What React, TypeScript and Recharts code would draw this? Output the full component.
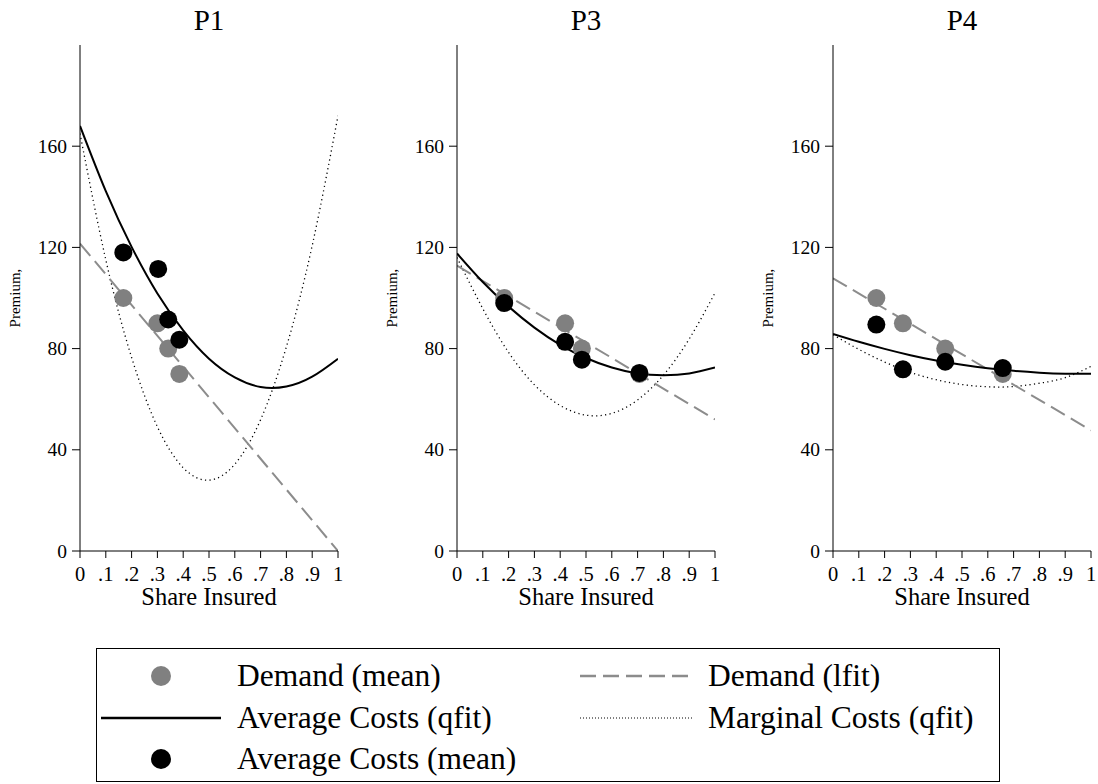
import React from 'react';
import { ComposedChart, Line, Scatter, XAxis, YAxis } from 'recharts';

const FONT = '"Liberation Serif", "Times New Roman", serif';

const panelTitles = ['P1', 'P3', 'P4'];
const xTicks = [0, 0.1, 0.2, 0.3, 0.4, 0.5, 0.6, 0.7, 0.8, 0.9, 1];
const yTicks = [0, 40, 80, 120, 160];
const xGrid = [0, 0.1, 0.2, 0.3, 0.4, 0.5, 0.6, 0.7, 0.8, 0.9, 1];

// Demand (mean) — gray points
const demandMeanX_P1 = [0.168, 0.30, 0.342, 0.385];
const demandMeanY_P1 = [100, 90, 80, 70];
const demandMeanX_P3 = [0.183, 0.419, 0.484, 0.707];
const demandMeanY_P3 = [100, 90, 80, 70];
const demandMeanX_P4 = [0.168, 0.271, 0.435, 0.658];
const demandMeanY_P4 = [100, 90, 80, 70];

// Average Costs (mean) — black points
const acMeanX_P1 = [0.168, 0.303, 0.342, 0.385];
const acMeanY_P1 = [118, 111.5, 91.5, 83.5];
const acMeanX_P3 = [0.183, 0.419, 0.484, 0.707];
const acMeanY_P3 = [98, 82.7, 75.6, 70.4];
const acMeanX_P4 = [0.168, 0.271, 0.435, 0.658];
const acMeanY_P4 = [89.5, 71.8, 74.8, 72.3];

// Demand (lfit) — endpoints at x = 0 and x = 1
const lfitX = [0, 1];
const demandFitY_P1 = [121.5, 0];
const demandFitY_P3 = [112.8, 52];
const demandFitY_P4 = [107.8, 47.7];

// Average Costs (qfit) read at x = 0, .1, ..., 1
const acFitY_P1 = [168, 142.2, 120.2, 101.8, 87.2, 76, 68.6, 64.8, 65.0, 68.9, 76];
const acFitY_P3 = [117.6, 106.3, 96.6, 88.3, 81.5, 76.3, 72.5, 70.2, 69.5, 70.2, 72.5];
const acFitY_P4 = [85.8, 82.7, 79.9, 77.4, 75.3, 73.6, 72.2, 71.2, 70.5, 70.1, 70.1];

// Marginal Costs (qfit) read at x = 0, .1, ..., 1
const mcFitY_P1 = [165, 115.1, 76.5, 49.1, 32.9, 28, 34.3, 51.9, 80.7, 120.7, 172];
const mcFitY_P3 = [116, 95.8, 78.5, 65.7, 57.5, 53.7, 54.4, 59.7, 69.5, 83.8, 102];
const mcFitY_P4 = [85.5, 79.7, 74.7, 70.6, 67.7, 65.8, 64.9, 65.0, 66.3, 68.5, 73];

const zip = (xs: number[], ys: number[]) => xs.map((x, i) => ({ x, y: ys[i] }));

const panels = [
  {
    title: panelTitles[0],
    plotLeft: 80,
    demandMean: zip(demandMeanX_P1, demandMeanY_P1),
    acMean: zip(acMeanX_P1, acMeanY_P1),
    demandFit: zip(lfitX, demandFitY_P1),
    acFit: zip(xGrid, acFitY_P1),
    mcFit: zip(xGrid, mcFitY_P1),
  },
  {
    title: panelTitles[1],
    plotLeft: 457,
    demandMean: zip(demandMeanX_P3, demandMeanY_P3),
    acMean: zip(acMeanX_P3, acMeanY_P3),
    demandFit: zip(lfitX, demandFitY_P3),
    acFit: zip(xGrid, acFitY_P3),
    mcFit: zip(xGrid, mcFitY_P3),
  },
  {
    title: panelTitles[2],
    plotLeft: 833,
    demandMean: zip(demandMeanX_P4, demandMeanY_P4),
    acMean: zip(acMeanX_P4, acMeanY_P4),
    demandFit: zip(lfitX, demandFitY_P4),
    acFit: zip(xGrid, acFitY_P4),
    mcFit: zip(xGrid, mcFitY_P4),
  },
];

const PLOT_W = 258;
const Y_AXIS_W = 80;
const RIGHT_M = 6;
const TOP = 45;
const BOTTOM = 551;
const CHART_H = 620;
const X_AXIS_H = 40;

const fmtX = (v: number) => {
  if (v === 0) return '0';
  if (v === 1) return '1';
  return '.' + Math.round(v * 10);
};

const XTick = (p: any) => (
  <text
    x={p.x}
    y={p.y}
    dy={20}
    textAnchor="middle"
    fill="#000"
    style={{ fontSize: '20.5px', fontFamily: FONT }}
  >
    {fmtX(p.payload.value)}
  </text>
);

const YTick = (p: any) => (
  <text
    x={p.x}
    y={p.y}
    dy={6.5}
    textAnchor="end"
    fill="#000"
    style={{ fontSize: '19.5px', fontFamily: FONT }}
  >
    {String(p.payload.value)}
  </text>
);

const grayDot = (p: any) => <circle cx={p.cx} cy={p.cy} r={9} fill="#808080" />;
const blackDot = (p: any) => <circle cx={p.cx} cy={p.cy} r={9} fill="#000000" />;

function Panel({ panel }: { panel: typeof panels[number] }) {
  const left = panel.plotLeft - Y_AXIS_W;
  const width = Y_AXIS_W + PLOT_W + RIGHT_M;
  const centerX = panel.plotLeft + PLOT_W / 2;
  return (
    <>
      <div
        style={{
          position: 'absolute',
          left: centerX - 60,
          width: 120,
          top: 3,
          textAlign: 'center',
          fontFamily: FONT,
          fontSize: 29,
          lineHeight: '34px',
          color: '#000',
        }}
      >
        {panel.title}
      </div>
      <div
        style={{
          position: 'absolute',
          left: panel.plotLeft - 65 - 40,
          top: (TOP + BOTTOM) / 2 - 10,
          width: 80,
          height: 20,
          lineHeight: '20px',
          textAlign: 'center',
          transform: 'rotate(-90deg)',
          fontFamily: FONT,
          fontSize: 15,
          color: '#000',
        }}
      >
        Premium,
      </div>
      <div
        style={{
          position: 'absolute',
          left: centerX - 100,
          width: 200,
          top: 584,
          textAlign: 'center',
          fontFamily: FONT,
          fontSize: 24.5,
          lineHeight: '26px',
          color: '#000',
        }}
      >
        Share Insured
      </div>
      <div style={{ position: 'absolute', left, top: 0 }}>
        <ComposedChart
          width={width}
          height={CHART_H}
          margin={{ top: TOP, right: RIGHT_M, bottom: CHART_H - BOTTOM - X_AXIS_H, left: 0 }}
        >
          <XAxis
            type="number"
            dataKey="x"
            domain={[0, 1]}
            ticks={xTicks}
            interval={0}
            allowDataOverflow
            height={X_AXIS_H}
            stroke="#000"
            tickSize={7}
            tickMargin={3}
            tick={XTick}
            tickLine={{ stroke: '#000' }}
          />
          <YAxis
            type="number"
            dataKey="y"
            domain={[0, 200]}
            ticks={yTicks}
            interval={0}
            allowDataOverflow
            width={Y_AXIS_W}
            stroke="#000"
            tickSize={8}
            tickMargin={5}
            tick={YTick}
            tickLine={{ stroke: '#000' }}
          />
          <Line
            data={panel.mcFit}
            dataKey="y"
            type="natural"
            stroke="#000"
            strokeWidth={1.3}
            strokeDasharray="1.2 3.3"
            dot={false}
            activeDot={false}
            isAnimationActive={false}
          />
          <Line
            data={panel.demandFit}
            dataKey="y"
            type="linear"
            stroke="#8c8c8c"
            strokeWidth={2}
            strokeDasharray="16 7"
            dot={false}
            activeDot={false}
            isAnimationActive={false}
          />
          <Line
            data={panel.acFit}
            dataKey="y"
            type="natural"
            stroke="#000"
            strokeWidth={2}
            dot={false}
            activeDot={false}
            isAnimationActive={false}
          />
          <Scatter data={panel.demandMean} dataKey="y" shape={grayDot} isAnimationActive={false} />
          <Scatter data={panel.acMean} dataKey="y" shape={blackDot} isAnimationActive={false} />
        </ComposedChart>
      </div>
    </>
  );
}

const legendItems = [
  { label: 'Demand (mean)', kind: 'grayDot', col: 0, row: 0 },
  { label: 'Demand (lfit)', kind: 'dash', col: 1, row: 0 },
  { label: 'Average Costs (qfit)', kind: 'solid', col: 0, row: 1 },
  { label: 'Marginal Costs (qfit)', kind: 'dot', col: 1, row: 1 },
  { label: 'Average Costs (mean)', kind: 'blackDot', col: 0, row: 2 },
];

function LegendIcon({ kind }: { kind: string }) {
  return (
    <svg width={124} height={30} style={{ display: 'block' }}>
      {kind === 'grayDot' && <circle cx={62} cy={15} r={10} fill="#808080" />}
      {kind === 'blackDot' && <circle cx={62} cy={15} r={10} fill="#000" />}
      {kind === 'solid' && <line x1={2} x2={122} y1={15} y2={15} stroke="#000" strokeWidth={2.5} />}
      {kind === 'dash' && (
        <line x1={2} x2={116} y1={15} y2={15} stroke="#8c8c8c" strokeWidth={2.5} strokeDasharray="16 7" />
      )}
      {kind === 'dot' && (
        <line x1={2} x2={116} y1={15} y2={15} stroke="#000" strokeWidth={1} strokeDasharray="1 2" />
      )}
    </svg>
  );
}

function LegendBox() {
  const rowY = [675, 717, 758];
  const iconX = [98, 577];
  const textX = [236, 707];
  return (
    <div
      style={{
        position: 'absolute',
        left: 96,
        top: 648,
        width: 904,
        height: 134,
        border: '1px solid #000',
        boxSizing: 'border-box',
      }}
    >
      {legendItems.map((it) => (
        <React.Fragment key={it.label}>
          <div style={{ position: 'absolute', left: iconX[it.col] - 96, top: rowY[it.row] - 648 - 15 }}>
            <LegendIcon kind={it.kind} />
          </div>
          <div
            style={{
              position: 'absolute',
              left: textX[it.col] - 96,
              top: rowY[it.row] - 648 - 18,
              height: 36,
              lineHeight: '36px',
              fontFamily: FONT,
              fontSize: 31.5,
              color: '#000',
              whiteSpace: 'nowrap',
            }}
          >
            {it.label}
          </div>
        </React.Fragment>
      ))}
    </div>
  );
}

export default function App() {
  return (
    <div
      style={{
        position: 'absolute',
        left: 0,
        top: 0,
        width: 1098,
        height: 784,
        background: '#fff',
        overflow: 'hidden',
      }}
    >
      {panels.map((p) => (
        <Panel key={p.title} panel={p} />
      ))}
      <LegendBox />
    </div>
  );
}
